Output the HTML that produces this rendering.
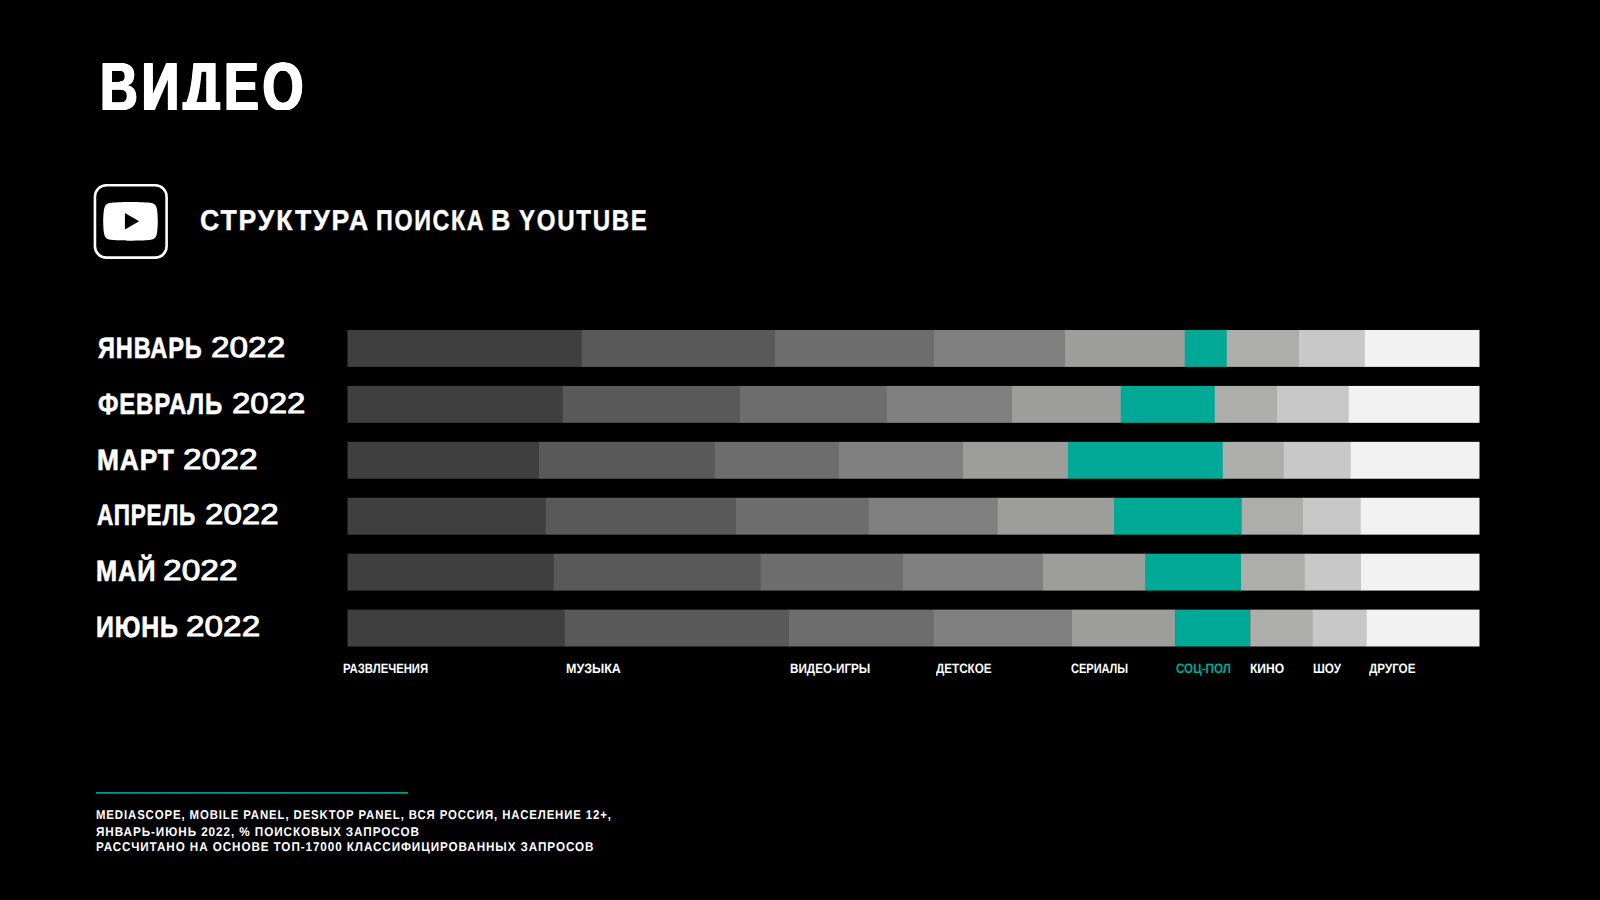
<!DOCTYPE html>
<html lang="ru"><head><meta charset="utf-8"><title>Видео — структура поиска в YouTube</title>
<style>
html,body{margin:0;padding:0;background:#000;}
body{width:1600px;height:900px;position:relative;overflow:hidden;color:#fff;
 font-family:"Liberation Sans",sans-serif;font-weight:700;}
.t{text-rendering:geometricPrecision;position:absolute;margin:0;padding:0;white-space:nowrap;line-height:1;transform-origin:0 0;font-weight:700;display:block}
.bar{position:absolute;left:0;top:0;pointer-events:none}
.rule{position:absolute;left:0;top:0}
.icon{position:absolute;left:93px;top:183px;width:76px;height:77px}
</style></head>
<body>
<header>
<h1 class="t" id="title" style="left:100.00px;top:52.88px;font-size:68.13px;transform:scaleX(0.7671);color:#fff;letter-spacing:5px;text-shadow:1.4px 0 0 #fff,-1.4px 0 0 #fff,0.7px 0 0 #fff,-0.7px 0 0 #fff;clip-path:inset(-10px -10px 10.90px -10px)">ВИДЕО</h1>
<svg class="icon" width="76" height="77" viewBox="0 0 76 77" role="img" aria-label="YouTube">
<rect x="1.95" y="2.3" width="71.65" height="72.3" rx="11.4" ry="11.4" fill="none" stroke="#fff" stroke-width="2.6"/>
<g transform="translate(10.2,18.9) scale(2.275,2.2945) translate(0,-3.545)">
<path fill="#fff" d="M23.498 6.186a3.016 3.016 0 0 0-2.122-2.136C19.505 3.545 12 3.545 12 3.545s-7.505 0-9.377.505A3.017 3.017 0 0 0 .502 6.186C0 8.07 0 12 0 12s0 3.930.502 5.814a3.016 3.016 0 0 0 2.122 2.136c1.871.505 9.376.505 9.376.505s7.505 0 9.377-.505a3.015 3.015 0 0 0 2.122-2.136C24 15.93 24 12 24 12s0-3.930-.502-5.814zM9.545 15.568V8.432L15.818 12l-6.273 3.568z"/>
</g></svg>
<h2 style="margin:0">
<span class="t" id="sub1" style="left:200.00px;top:206.88px;font-size:28.62px;transform:scaleX(0.9310);color:#fff;letter-spacing:2px;-webkit-text-stroke:0.4px #fff">СТРУКТУРА</span>
<span class="t" id="sub2" style="left:376.00px;top:206.88px;font-size:28.62px;transform:scaleX(0.8148);color:#fff;letter-spacing:2px;-webkit-text-stroke:0.4px #fff">ПОИСКА</span>
<span class="t" id="sub3" style="left:491.00px;top:206.88px;font-size:28.62px;transform:scaleX(0.9398);color:#fff;letter-spacing:2px;-webkit-text-stroke:0.4px #fff">В</span>
<span class="t" id="sub4" style="left:519.00px;top:206.88px;font-size:28.62px;transform:scaleX(0.8419);color:#fff;letter-spacing:2px;-webkit-text-stroke:0.4px #fff">YOUTUBE</span>
</h2></header>
<main>
<section class="row">
<span class="t" id="m0a" style="left:98.00px;top:334.88px;font-size:29.27px;transform:scaleX(0.8066);color:#fff;letter-spacing:1px;-webkit-text-stroke:0.6px #fff">ЯНВАРЬ</span>
<span class="t" id="m0b" style="left:211.00px;top:333.88px;font-size:28.83px;transform:scaleX(1.1565);color:#fff;-webkit-text-stroke:0.9px #fff;font-weight:400">2022</span>
<svg class="bar" width="1600" height="900" viewBox="0 0 1600 900">
<rect class="seg" x="347.50" y="330.00" width="234.30" height="36.90" fill="#3f3f3f"><title>Развлечения</title></rect>
<rect class="seg" x="581.50" y="330.00" width="193.80" height="36.90" fill="#595959"><title>Музыка</title></rect>
<rect class="seg" x="775.00" y="330.00" width="159.30" height="36.90" fill="#6d6d6d"><title>Видео-игры</title></rect>
<rect class="seg" x="934.00" y="330.00" width="131.30" height="36.90" fill="#808080"><title>Детское</title></rect>
<rect class="seg" x="1065.00" y="330.00" width="120.05" height="36.90" fill="#9d9d9b"><title>Сериалы</title></rect>
<rect class="seg" x="1184.75" y="330.00" width="42.30" height="36.90" fill="#00a896"><title>Соц-пол</title></rect>
<rect class="seg" x="1226.75" y="330.00" width="71.80" height="36.90" fill="#adadab"><title>Кино</title></rect>
<rect class="seg" x="1298.25" y="330.00" width="66.30" height="36.90" fill="#c8c8c8"><title>Шоу</title></rect>
<rect class="seg" x="1364.25" y="330.00" width="115.25" height="36.90" fill="#f2f2f2"><title>Другое</title></rect>
</svg></section>
<section class="row">
<span class="t" id="m1a" style="left:98.00px;top:390.88px;font-size:29.27px;transform:scaleX(0.8190);color:#fff;letter-spacing:1px;-webkit-text-stroke:0.6px #fff">ФЕВРАЛЬ</span>
<span class="t" id="m1b" style="left:232.00px;top:389.88px;font-size:28.83px;transform:scaleX(1.1448);color:#fff;-webkit-text-stroke:0.9px #fff;font-weight:400">2022</span>
<svg class="bar" width="1600" height="900" viewBox="0 0 1600 900">
<rect class="seg" x="347.50" y="385.92" width="215.55" height="36.90" fill="#3f3f3f"><title>Развлечения</title></rect>
<rect class="seg" x="562.75" y="385.92" width="177.05" height="36.90" fill="#595959"><title>Музыка</title></rect>
<rect class="seg" x="739.50" y="385.92" width="147.05" height="36.90" fill="#6d6d6d"><title>Видео-игры</title></rect>
<rect class="seg" x="886.25" y="385.92" width="126.05" height="36.90" fill="#808080"><title>Детское</title></rect>
<rect class="seg" x="1012.00" y="385.92" width="109.05" height="36.90" fill="#9d9d9b"><title>Сериалы</title></rect>
<rect class="seg" x="1120.75" y="385.92" width="94.30" height="36.90" fill="#00a896"><title>Соц-пол</title></rect>
<rect class="seg" x="1214.75" y="385.92" width="62.55" height="36.90" fill="#adadab"><title>Кино</title></rect>
<rect class="seg" x="1277.00" y="385.92" width="72.05" height="36.90" fill="#c8c8c8"><title>Шоу</title></rect>
<rect class="seg" x="1348.75" y="385.92" width="130.75" height="36.90" fill="#f2f2f2"><title>Другое</title></rect>
</svg></section>
<section class="row">
<span class="t" id="m2a" style="left:97.00px;top:446.88px;font-size:29.27px;transform:scaleX(0.8993);color:#fff;letter-spacing:1px;-webkit-text-stroke:0.6px #fff">МАРТ</span>
<span class="t" id="m2b" style="left:183.00px;top:445.88px;font-size:28.83px;transform:scaleX(1.1650);color:#fff;-webkit-text-stroke:0.9px #fff;font-weight:400">2022</span>
<svg class="bar" width="1600" height="900" viewBox="0 0 1600 900">
<rect class="seg" x="347.50" y="441.84" width="191.80" height="36.90" fill="#3f3f3f"><title>Развлечения</title></rect>
<rect class="seg" x="539.00" y="441.84" width="176.05" height="36.90" fill="#595959"><title>Музыка</title></rect>
<rect class="seg" x="714.75" y="441.84" width="123.80" height="36.90" fill="#6d6d6d"><title>Видео-игры</title></rect>
<rect class="seg" x="838.25" y="441.84" width="125.05" height="36.90" fill="#808080"><title>Детское</title></rect>
<rect class="seg" x="963.00" y="441.84" width="105.30" height="36.90" fill="#9d9d9b"><title>Сериалы</title></rect>
<rect class="seg" x="1068.00" y="441.84" width="155.05" height="36.90" fill="#00a896"><title>Соц-пол</title></rect>
<rect class="seg" x="1222.75" y="441.84" width="61.30" height="36.90" fill="#adadab"><title>Кино</title></rect>
<rect class="seg" x="1283.75" y="441.84" width="67.30" height="36.90" fill="#c8c8c8"><title>Шоу</title></rect>
<rect class="seg" x="1350.75" y="441.84" width="128.75" height="36.90" fill="#f2f2f2"><title>Другое</title></rect>
</svg></section>
<section class="row">
<span class="t" id="m3a" style="left:97.00px;top:501.88px;font-size:29.27px;transform:scaleX(0.7716);color:#fff;letter-spacing:1px;-webkit-text-stroke:0.6px #fff">АПРЕЛЬ</span>
<span class="t" id="m3b" style="left:205.00px;top:500.88px;font-size:28.83px;transform:scaleX(1.1499);color:#fff;-webkit-text-stroke:0.9px #fff;font-weight:400">2022</span>
<svg class="bar" width="1600" height="900" viewBox="0 0 1600 900">
<rect class="seg" x="347.50" y="497.76" width="198.55" height="36.90" fill="#3f3f3f"><title>Развлечения</title></rect>
<rect class="seg" x="545.75" y="497.76" width="190.55" height="36.90" fill="#595959"><title>Музыка</title></rect>
<rect class="seg" x="736.00" y="497.76" width="133.05" height="36.90" fill="#6d6d6d"><title>Видео-игры</title></rect>
<rect class="seg" x="868.75" y="497.76" width="129.30" height="36.90" fill="#808080"><title>Детское</title></rect>
<rect class="seg" x="997.75" y="497.76" width="116.55" height="36.90" fill="#9d9d9b"><title>Сериалы</title></rect>
<rect class="seg" x="1114.00" y="497.76" width="128.05" height="36.90" fill="#00a896"><title>Соц-пол</title></rect>
<rect class="seg" x="1241.75" y="497.76" width="61.55" height="36.90" fill="#adadab"><title>Кино</title></rect>
<rect class="seg" x="1303.00" y="497.76" width="58.05" height="36.90" fill="#c8c8c8"><title>Шоу</title></rect>
<rect class="seg" x="1360.75" y="497.76" width="118.75" height="36.90" fill="#f2f2f2"><title>Другое</title></rect>
</svg></section>
<section class="row">
<span class="t" id="m4a" style="left:96.00px;top:557.88px;font-size:29.27px;transform:scaleX(0.8679);color:#fff;letter-spacing:1px;-webkit-text-stroke:0.6px #fff">МАЙ</span>
<span class="t" id="m4b" style="left:163.00px;top:556.88px;font-size:28.83px;transform:scaleX(1.1628);color:#fff;-webkit-text-stroke:0.9px #fff;font-weight:400">2022</span>
<svg class="bar" width="1600" height="900" viewBox="0 0 1600 900">
<rect class="seg" x="347.50" y="553.68" width="206.55" height="36.90" fill="#3f3f3f"><title>Развлечения</title></rect>
<rect class="seg" x="553.75" y="553.68" width="206.80" height="36.90" fill="#595959"><title>Музыка</title></rect>
<rect class="seg" x="760.25" y="553.68" width="143.05" height="36.90" fill="#6d6d6d"><title>Видео-игры</title></rect>
<rect class="seg" x="903.00" y="553.68" width="140.30" height="36.90" fill="#808080"><title>Детское</title></rect>
<rect class="seg" x="1043.00" y="553.68" width="102.80" height="36.90" fill="#9d9d9b"><title>Сериалы</title></rect>
<rect class="seg" x="1145.50" y="553.68" width="95.80" height="36.90" fill="#00a896"><title>Соц-пол</title></rect>
<rect class="seg" x="1241.00" y="553.68" width="64.05" height="36.90" fill="#adadab"><title>Кино</title></rect>
<rect class="seg" x="1304.75" y="553.68" width="56.55" height="36.90" fill="#c8c8c8"><title>Шоу</title></rect>
<rect class="seg" x="1361.00" y="553.68" width="118.50" height="36.90" fill="#f2f2f2"><title>Другое</title></rect>
</svg></section>
<section class="row">
<span class="t" id="m5a" style="left:96.00px;top:613.88px;font-size:29.27px;transform:scaleX(0.8510);color:#fff;letter-spacing:1px;-webkit-text-stroke:0.6px #fff">ИЮНЬ</span>
<span class="t" id="m5b" style="left:186.00px;top:612.88px;font-size:28.83px;transform:scaleX(1.1565);color:#fff;-webkit-text-stroke:0.9px #fff;font-weight:400">2022</span>
<svg class="bar" width="1600" height="900" viewBox="0 0 1600 900">
<rect class="seg" x="347.50" y="609.60" width="217.30" height="36.90" fill="#3f3f3f"><title>Развлечения</title></rect>
<rect class="seg" x="564.50" y="609.60" width="224.80" height="36.90" fill="#595959"><title>Музыка</title></rect>
<rect class="seg" x="789.00" y="609.60" width="145.05" height="36.90" fill="#6d6d6d"><title>Видео-игры</title></rect>
<rect class="seg" x="933.75" y="609.60" width="138.55" height="36.90" fill="#808080"><title>Детское</title></rect>
<rect class="seg" x="1072.00" y="609.60" width="103.55" height="36.90" fill="#9d9d9b"><title>Сериалы</title></rect>
<rect class="seg" x="1175.25" y="609.60" width="75.30" height="36.90" fill="#00a896"><title>Соц-пол</title></rect>
<rect class="seg" x="1250.25" y="609.60" width="62.80" height="36.90" fill="#adadab"><title>Кино</title></rect>
<rect class="seg" x="1312.75" y="609.60" width="54.30" height="36.90" fill="#c8c8c8"><title>Шоу</title></rect>
<rect class="seg" x="1366.75" y="609.60" width="112.75" height="36.90" fill="#f2f2f2"><title>Другое</title></rect>
</svg></section>
<div class="legend">
<span class="t" id="l0" style="left:343.00px;top:661.88px;font-size:13.51px;transform:scaleX(0.8380);color:#fff">РАЗВЛЕЧЕНИЯ</span>
<span class="t" id="l1" style="left:566.00px;top:661.88px;font-size:13.51px;transform:scaleX(0.9252);color:#fff">МУЗЫКА</span>
<span class="t" id="l2" style="left:790.00px;top:661.88px;font-size:13.51px;transform:scaleX(0.8670);color:#fff">ВИДЕО-ИГРЫ</span>
<span class="t" id="l3" style="left:936.00px;top:661.88px;font-size:13.51px;transform:scaleX(0.8635);color:#fff">ДЕТСКОЕ</span>
<span class="t" id="l4" style="left:1071.00px;top:661.88px;font-size:13.51px;transform:scaleX(0.8151);color:#fff">СЕРИАЛЫ</span>
<span class="t" id="l5" style="left:1176.00px;top:661.88px;font-size:13.51px;transform:scaleX(0.8626);color:#00a896">СОЦ-ПОЛ</span>
<span class="t" id="l6" style="left:1250.00px;top:661.88px;font-size:13.51px;transform:scaleX(0.8925);color:#fff">КИНО</span>
<span class="t" id="l7" style="left:1313.00px;top:661.88px;font-size:13.51px;transform:scaleX(0.8715);color:#fff">ШОУ</span>
<span class="t" id="l8" style="left:1369.00px;top:661.88px;font-size:13.51px;transform:scaleX(0.8623);color:#fff">ДРУГОЕ</span>
</div></main>
<footer><svg class="rule" width="1600" height="900" viewBox="0 0 1600 900"><rect x="96" y="792.1" width="312" height="1.6" fill="#00a896"/></svg>
<span class="t" id="f1" style="left:96.00px;top:808.88px;font-size:12.78px;transform:scaleX(0.8917);color:#fff;letter-spacing:1px">MEDIASCOPE, MOBILE PANEL, DESKTOP PANEL, ВСЯ РОССИЯ, НАСЕЛЕНИЕ 12+,</span>
<span class="t" id="f2" style="left:96.00px;top:825.88px;font-size:12.71px;transform:scaleX(0.9232);color:#fff;letter-spacing:1px">ЯНВАРЬ-ИЮНЬ 2022, % ПОИСКОВЫХ ЗАПРОСОВ</span>
<span class="t" id="f3" style="left:96.00px;top:840.88px;font-size:12.78px;transform:scaleX(0.9154);color:#fff;letter-spacing:1px">РАССЧИТАНО НА ОСНОВЕ ТОП-17000 КЛАССИФИЦИРОВАННЫХ ЗАПРОСОВ</span>
</footer></body></html>
